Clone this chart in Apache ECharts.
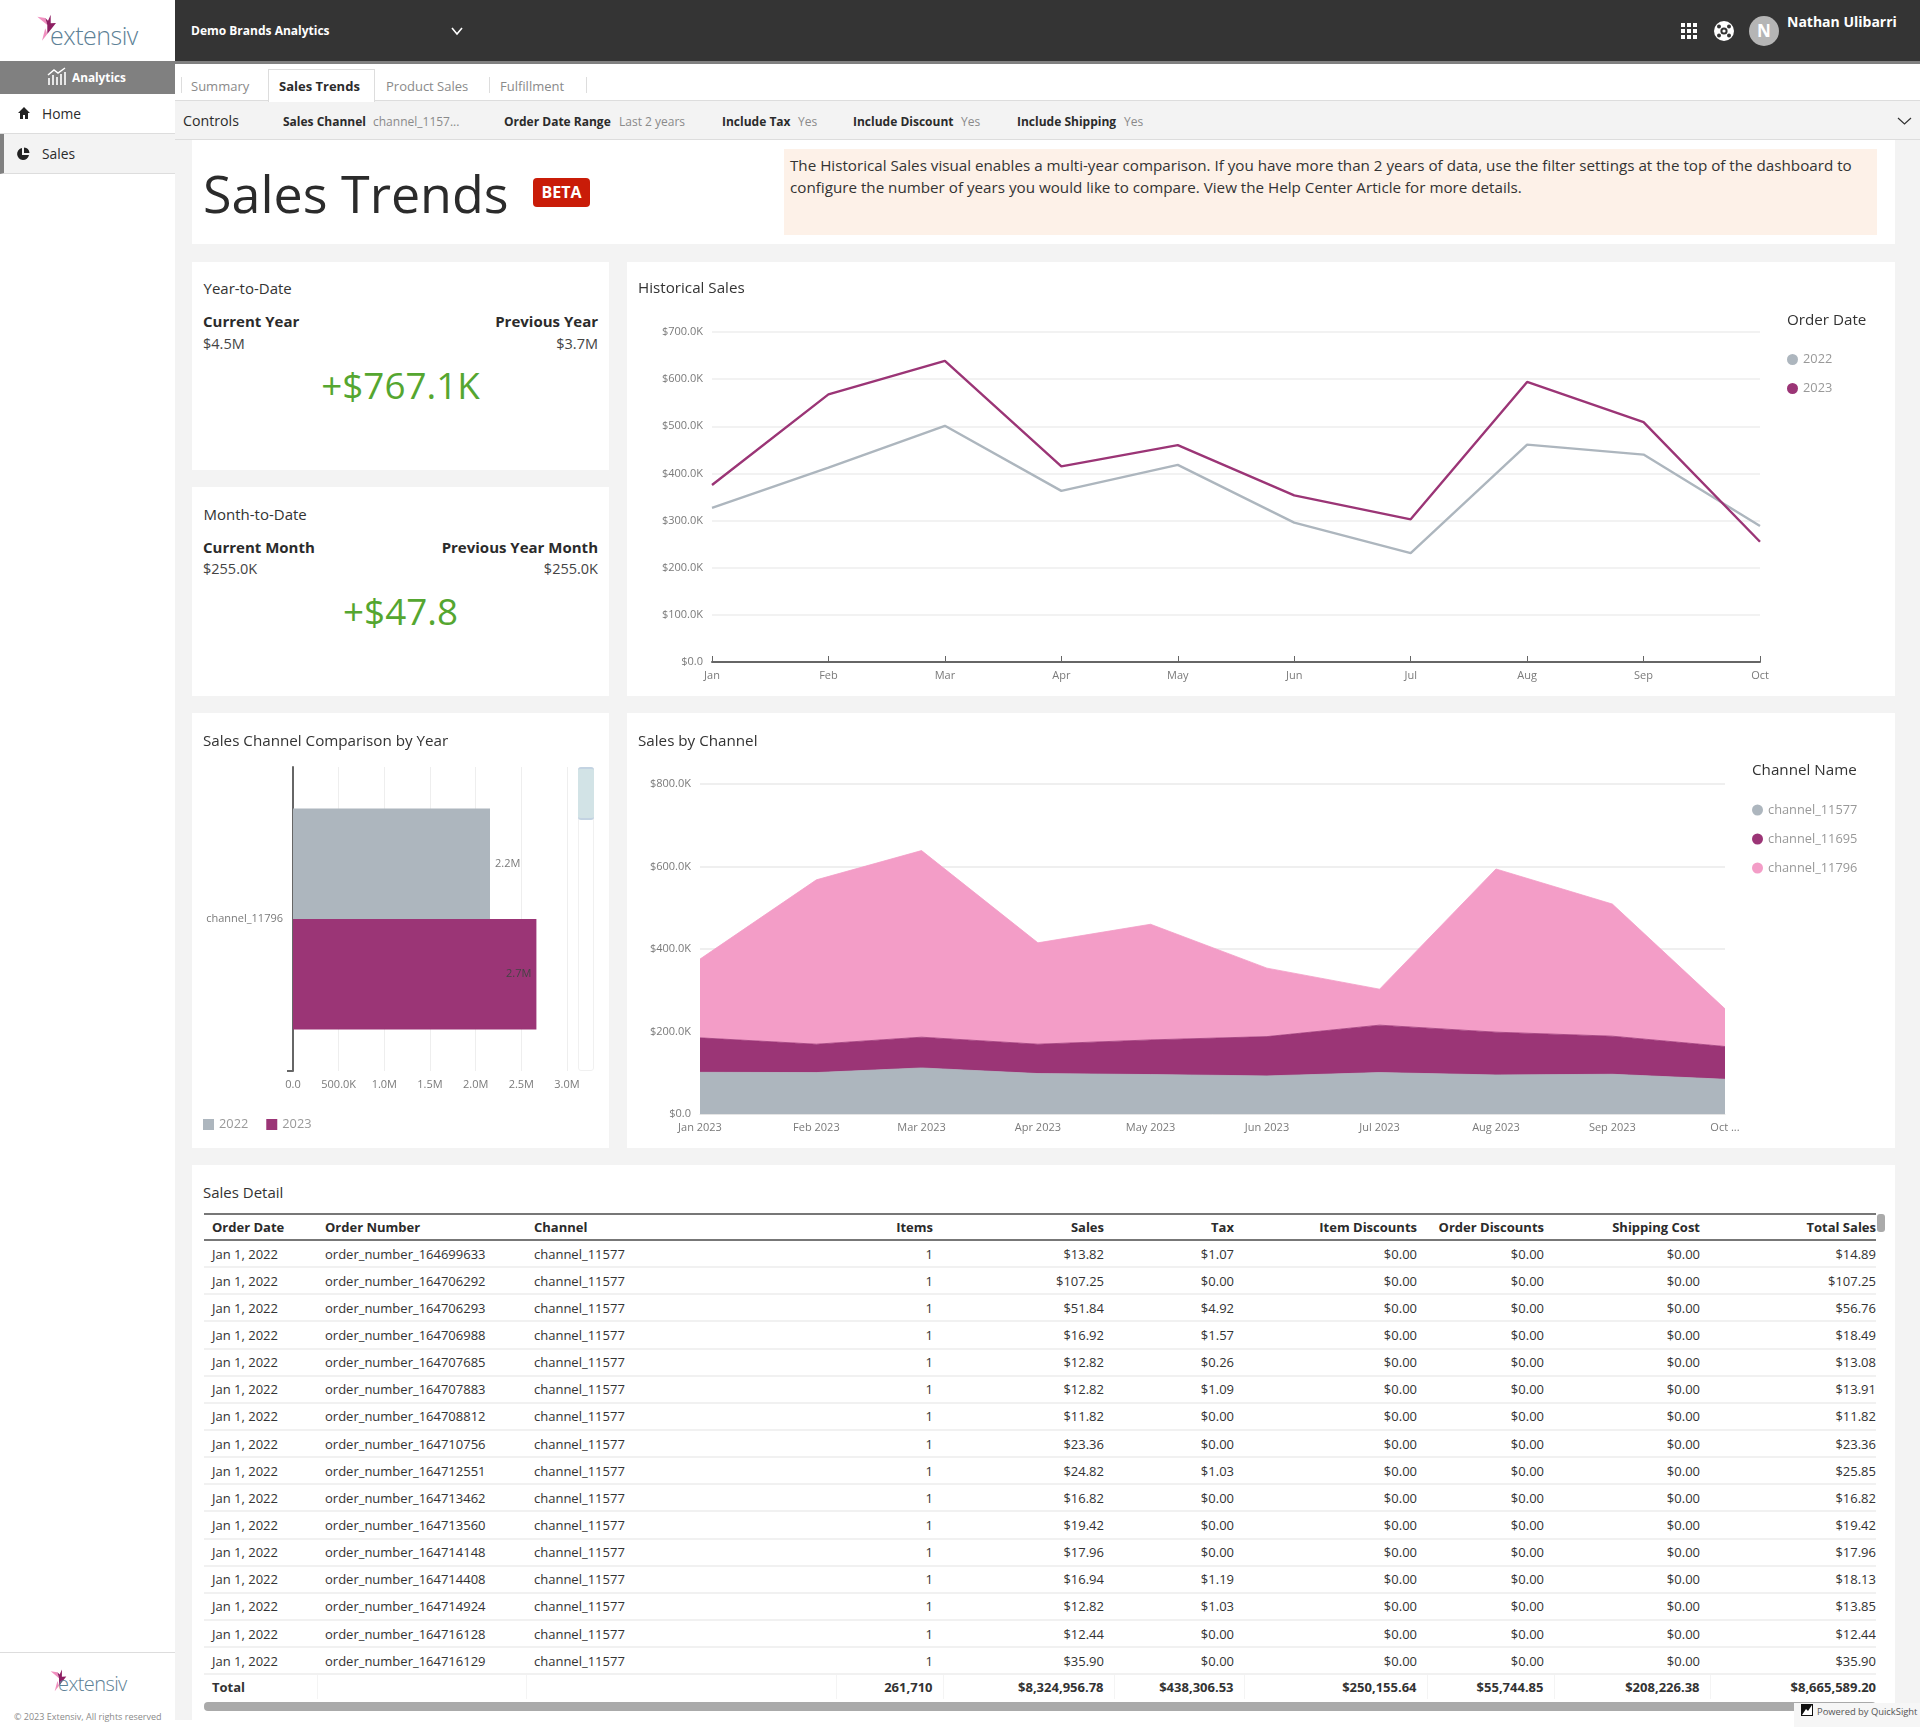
<!DOCTYPE html>
<html>
<head>
<meta charset="utf-8">
<title>Sales Trends</title>
<script src="https://cdn.jsdelivr.net/npm/echarts@6/dist/echarts.min.js"></script>
<style>
    * { box-sizing: border-box; }
    html, body { margin: 0; padding: 0; background: #fff; }
    body { width: 1920px; height: 1730px; position: relative; overflow: hidden; font-family: 'Open Sans', sans-serif; color: #2b2b2b; }
    .abs { position: absolute; white-space: nowrap; }
    .mid { transform: translateY(-50%); }
    .card { position: absolute; background: #fff; }
    .b { font-weight: 700; }
    .grey { color: #8a8a8a; }
    .kpi-head { font-size: 15px; font-weight: 700; color: #2b2b2b; }
    .kpi-val { font-size: 14.5px; color: #444; }
    .kpi-diff { font-size: 36.8px; color: #55a630; text-align: center; left: 0; width: 417px; }
    table { border-collapse: collapse; table-layout: fixed; font-size: 13px; color: #333; }
    th, td { padding: 0 10px 0 8px; height: 27.15px; overflow: hidden; white-space: nowrap; font-weight: 400; border-bottom: 2px solid #f1f1f1; }
    th { font-weight: 700; color: #2b2b2b; height: 26px; border-top: 2px solid #777; border-bottom: 2px solid #777; }
    td.num, th.num { text-align: right; }
    td:last-child, th:last-child { padding-right: 0; }
    tr.total td { font-weight: 700; height: 25px; border-bottom: none; border-right: 1px solid #f4f4f4; color: #333; }
    tr.total td:last-child { border-right: none; }
</style>
</head>
<body>
<div class="abs" style="left:175px;top:0;width:1745px;height:1720px;background:#f3f3f3;"></div>

<!-- top bar -->
<div class="abs" style="left:175px;top:0;width:1745px;height:61px;background:#343434;"></div>
<div class="abs" style="left:175px;top:61px;width:1745px;height:3px;background:#808080;"></div>
<div class="abs mid b" style="left:191px;top:30px;font-size:12px;color:#fff;">Demo Brands Analytics</div>
<svg class="abs" style="left:450px;top:26px;" width="14" height="10"><path d="M2 2 L7 8 L12 2" fill="none" stroke="#fff" stroke-width="1.6"/></svg>
<svg class="abs" style="left:1681px;top:23px;" width="17" height="17" id="gridIcon"></svg>
<svg class="abs" style="left:1714px;top:21px;" width="20" height="20">
    <circle cx="10" cy="10" r="10" fill="#fff"/>
    <circle cx="10" cy="10" r="3.6" fill="#343434"/>
    <circle cx="10" cy="10" r="1.6" fill="#fff"/>
    <circle cx="5" cy="5.5" r="2" fill="#343434"/>
    <circle cx="15" cy="5.5" r="2" fill="#343434"/>
    <circle cx="5" cy="14.5" r="2" fill="#343434"/>
    <circle cx="15" cy="14.5" r="2" fill="#343434"/>
</svg>
<div class="abs" style="left:1749px;top:16px;width:30px;height:30px;border-radius:15px;background:#b5b5b5;color:#fff;font-weight:700;font-size:17px;line-height:30px;text-align:center;">N</div>
<div class="abs mid b" style="left:1787px;top:21px;font-size:14px;color:#fff;">Nathan Ulibarri</div>

<!-- sidebar -->
<svg class="abs" style="left:34px;top:14px;" width="24" height="30">
    <path d="M3.3 2.7 L11.3 4 L13.3 11 Z" fill="#f08fbf"/>
    <path d="M11.3 4 L14 6.7 L16.7 0.7 L16.7 9.3 L22 9 L13.3 20 L13.3 11 Z" fill="#8e1f63"/>
    <path d="M13.3 20 L8 26.7 L11.3 14.3 Z" fill="#f08fbf"/>
</svg>
<div class="abs mid" style="left:50px;top:35px;font-size:25px;font-weight:300;color:#5d8196;letter-spacing:-0.5px;">extensiv</div>
<div class="abs" style="left:0;top:61px;width:175px;height:33px;background:#808080;"></div>
<svg class="abs" style="left:47px;top:67px;" width="20" height="19">
    <path d="M1 8 L7 3 L11 6 L18 1" fill="none" stroke="#fff" stroke-width="1.5"/>
    <path d="M2 18 V11 M6 18 V8 M10 18 V10 M14 18 V7 M18 18 V5" stroke="#fff" stroke-width="1.6"/>
</svg>
<div class="abs mid b" style="left:72px;top:77px;font-size:11.8px;color:#fff;">Analytics</div>
<div class="abs" style="left:0;top:133px;width:175px;height:1px;background:#ddd;"></div>
<svg class="abs" style="left:17px;top:106px;" width="14" height="14"><path d="M7 1 L13 7 H11 V13 H8 V9 H6 V13 H3 V7 H1 Z" fill="#222"/></svg>
<div class="abs mid" style="left:42px;top:113px;font-size:13.8px;">Home</div>
<div class="abs" style="left:0;top:134px;width:175px;height:40px;background:#f3f3f3;border-bottom:1px solid #ddd;border-left:4px solid #808080;"></div>
<svg class="abs" style="left:16px;top:147px;" width="14" height="14"><path d="M6 1 A6 6 0 1 0 13 8 H6 Z M8 0.5 V6 H13.5 A6 6 0 0 0 8 0.5 Z" fill="#222"/></svg>
<div class="abs mid" style="left:42px;top:153px;font-size:13.8px;">Sales</div>
<div class="abs" style="left:0;top:1652px;width:175px;height:1px;background:#ddd;"></div>
<svg class="abs" style="left:48px;top:1669px;" width="20" height="25">
    <path d="M2.7 2.2 L9.4 3.3 L11 9.2 Z" fill="#f08fbf"/>
    <path d="M9.4 3.3 L11.7 5.6 L13.9 0.6 L13.9 7.7 L18.3 7.5 L11 16.7 L11 9.2 Z" fill="#8e1f63"/>
    <path d="M11 16.7 L6.7 22.2 L9.4 11.9 Z" fill="#f08fbf"/>
</svg>
<div class="abs mid" style="left:58px;top:1683px;font-size:20px;font-weight:300;color:#5d8196;letter-spacing:-0.6px;">extensiv</div>
<div class="abs mid" style="left:14px;top:1716px;font-size:9px;color:#8a8a8a;">© 2023 Extensiv, All rights reserved</div>

<!-- tabs -->
<div class="abs" style="left:175px;top:64px;width:1745px;height:37px;background:#fff;border-bottom:1px solid #ddd;"></div>
<div class="abs" style="left:181px;top:77px;width:1px;height:16px;background:#ddd;"></div>
<div class="abs mid" style="left:191px;top:86px;font-size:13px;color:#8a8a8a;">Summary</div>
<div class="abs" style="left:268px;top:69px;width:107px;height:33px;background:#fff;border:1px solid #ddd;border-bottom:none;"></div>
<div class="abs mid b" style="left:279px;top:86px;font-size:13px;">Sales Trends</div>
<div class="abs mid" style="left:386px;top:86px;font-size:13px;color:#8a8a8a;">Product Sales</div>
<div class="abs" style="left:489px;top:77px;width:1px;height:16px;background:#ddd;"></div>
<div class="abs mid" style="left:500px;top:86px;font-size:13px;color:#8a8a8a;">Fulfillment</div>
<div class="abs" style="left:586px;top:77px;width:1px;height:16px;background:#ddd;"></div>

<!-- controls -->
<div class="abs" style="left:175px;top:102px;width:1745px;height:38px;background:#f3f3f3;border-bottom:1px solid #ddd;"></div>
<div class="abs mid" style="left:183px;top:120px;font-size:14.2px;">Controls</div>
<div class="abs mid b" style="left:283px;top:121px;font-size:12px;">Sales Channel</div>
<div class="abs mid grey" style="left:373px;top:121px;font-size:12px;">channel_1157...</div>
<div class="abs mid b" style="left:504px;top:121px;font-size:12px;">Order Date Range</div>
<div class="abs mid grey" style="left:619px;top:121px;font-size:12px;">Last 2 years</div>
<div class="abs mid b" style="left:722px;top:121px;font-size:12px;">Include Tax</div>
<div class="abs mid grey" style="left:798px;top:121px;font-size:12px;">Yes</div>
<div class="abs mid b" style="left:853px;top:121px;font-size:12px;">Include Discount</div>
<div class="abs mid grey" style="left:961px;top:121px;font-size:12px;">Yes</div>
<div class="abs mid b" style="left:1017px;top:121px;font-size:12px;">Include Shipping</div>
<div class="abs mid grey" style="left:1124px;top:121px;font-size:12px;">Yes</div>
<svg class="abs" style="left:1897px;top:116px;" width="15" height="10"><path d="M1 2 L7.5 8 L14 2" fill="none" stroke="#333" stroke-width="1.2"/></svg>

<!-- heading -->
<div class="card" style="left:192px;top:140px;width:1703px;height:104px;"></div>
<div class="abs" style="left:203px;top:157px;font-size:52px;line-height:72px;color:#2b2b2b;">Sales Trends</div>
<div class="abs b" style="left:533px;top:178px;width:57px;height:29px;border-radius:4px;background:#c91c08;color:#fff;font-size:16px;line-height:29px;text-align:center;">BETA</div>
<div class="abs" style="left:784px;top:149px;width:1093px;height:86px;background:#fdf1e8;"></div>
<div class="abs" style="left:790px;top:154px;font-size:15.2px;line-height:22px;color:#333;white-space:normal;width:1075px;">The Historical Sales visual enables a multi-year comparison. If you have more than 2 years of data, use the filter settings at the top of the dashboard to<br>configure the number of years you would like to compare. View the Help Center Article for more details.</div>

<!-- KPI cards -->
<div class="card" style="left:192px;top:262px;width:417px;height:208px;">
    <div class="abs mid" style="left:11.5px;top:26px;font-size:15px;color:#333;">Year-to-Date</div>
    <div class="abs mid kpi-head" style="left:11px;top:59px;" id="ytdHeadL"></div>
    <div class="abs mid kpi-head" style="right:11px;top:59px;" id="ytdHeadR"></div>
    <div class="abs mid kpi-val" style="left:11px;top:81px;" id="ytdValL"></div>
    <div class="abs mid kpi-val" style="right:11px;top:81px;" id="ytdValR"></div>
    <div class="abs mid kpi-diff" style="top:123px;" id="ytdDiff"></div>
</div>
<div class="card" style="left:192px;top:487px;width:417px;height:209px;">
    <div class="abs mid" style="left:11.5px;top:27px;font-size:15px;color:#333;">Month-to-Date</div>
    <div class="abs mid kpi-head" style="left:11px;top:60px;" id="mtdHeadL"></div>
    <div class="abs mid kpi-head" style="right:11px;top:60px;" id="mtdHeadR"></div>
    <div class="abs mid kpi-val" style="left:11px;top:81px;" id="mtdValL"></div>
    <div class="abs mid kpi-val" style="right:11px;top:81px;" id="mtdValR"></div>
    <div class="abs mid kpi-diff" style="top:124px;" id="mtdDiff"></div>
</div>

<!-- chart cards -->
<div class="card" id="historicalChart" style="left:627px;top:262px;width:1268px;height:434px;"></div>
<div class="card" id="comparisonChart" style="left:192px;top:713px;width:417px;height:435px;"></div>
<div class="abs" style="left:578px;top:767px;width:16px;height:304px;border:1px solid #f0f0f0;border-radius:3px;"></div>
<div class="abs" style="left:578px;top:767px;width:16px;height:53px;background:#d2e3e6;border-top:2px solid #c3d3e2;border-bottom:2px solid #c3d3e2;border-radius:3px;"></div>
<div class="abs" style="left:287px;top:1070px;width:6px;height:2px;background:#666;"></div>
<div class="card" id="channelChart" style="left:627px;top:713px;width:1268px;height:435px;"></div>

<!-- table card -->
<div class="card" style="left:192px;top:1165px;width:1703px;height:555px;"></div>
<div class="abs mid" style="left:203px;top:1192px;font-size:15px;color:#333;">Sales Detail</div>
<table class="abs" style="left:204px;top:1213px;width:1672px;" id="detailTable"></table>
<div class="abs" style="left:1877px;top:1214px;width:8px;height:18px;background:#aaa;border-radius:3px;"></div>
<div class="abs" style="left:204px;top:1702px;width:1672px;height:9px;background:#aaa;border-radius:4px;"></div>
<div class="abs" style="left:1794px;top:1703px;width:126px;height:24px;background:#f6f6f6;"></div>
<svg class="abs" style="left:1801px;top:1704px;" width="12" height="12"><rect width="12" height="12" fill="#111"/><path d="M1 11 L5 5 L7 7 L11 1 V11 Z" fill="#fff"/></svg>
<div class="abs mid" style="left:1817px;top:1711px;font-size:9.4px;color:#555;">Powered by QuickSight</div>

<script>
// Chart values (thousands of dollars unless noted)
const monthLabels = ['Jan', 'Feb', 'Mar', 'Apr', 'May', 'Jun', 'Jul', 'Aug', 'Sep', 'Oct'];
const sales2022 = [326.7, 412.5, 501, 363, 418, 295.5, 231, 461, 440, 288.5];
const sales2023 = [375.6, 567.7, 638.6, 415, 460, 353.6, 302.6, 594, 509, 255];
const historicalTicks = ['$0.0', '$100.0K', '$200.0K', '$300.0K', '$400.0K', '$500.0K', '$600.0K', '$700.0K'];

const channelMonths = ['2023-01-01', '2023-02-01', '2023-03-01', '2023-04-01', '2023-05-01', '2023-06-01', '2023-07-01', '2023-08-01', '2023-09-01', '2023-10-01'];
const channelMonthLabels = ['Jan 2023', 'Feb 2023', 'Mar 2023', 'Apr 2023', 'May 2023', 'Jun 2023', 'Jul 2023', 'Aug 2023', 'Sep 2023', 'Oct ...'];
const channel11577 = [101, 100.4, 111.6, 98, 95.6, 92.3, 100.4, 94.6, 96.3, 84.2];
const channel11695 = [83.6, 68.8, 74.6, 71.2, 84, 95.3, 115, 103.8, 92.3, 79.4];
const channel11796 = [191, 398.5, 452.4, 245.8, 280.4, 166, 87.2, 395.6, 320.4, 91.4];
const channelTicks = ['$0.0', '$200.0K', '$400.0K', '$600.0K', '$800.0K'];

// Values in dollars
const comparisonCategories = ['channel_11796'];
const comparison2022 = [2157000];
const comparison2023 = [2665000];
const comparisonTicks = ['0.0', '500.0K', '1.0M', '1.5M', '2.0M', '2.5M', '3.0M'];

const kpiYear = ['Current Year', 'Previous Year', '$4.5M', '$3.7M', '+$767.1K'];
const kpiMonth = ['Current Month', 'Previous Year Month', '$255.0K', '$255.0K', '+$47.8'];

const tableColumns = ['Order Date', 'Order Number', 'Channel', 'Items', 'Sales', 'Tax', 'Item Discounts', 'Order Discounts', 'Shipping Cost', 'Total Sales'];
const columnWidths = [113, 209, 310, 107, 171, 130, 183, 127, 156, 166];
const orderNumbers = ['164699633', '164706292', '164706293', '164706988', '164707685', '164707883', '164708812', '164710756', '164712551', '164713462', '164713560', '164714148', '164714408', '164714924', '164716128', '164716129'];
const orderSales = ['13.82', '107.25', '51.84', '16.92', '12.82', '12.82', '11.82', '23.36', '24.82', '16.82', '19.42', '17.96', '16.94', '12.82', '12.44', '35.90'];
const orderTax = ['1.07', '0.00', '4.92', '1.57', '0.26', '1.09', '0.00', '0.00', '1.03', '0.00', '0.00', '0.00', '1.19', '1.03', '0.00', '0.00'];
const orderTotal = ['14.89', '107.25', '56.76', '18.49', '13.08', '13.91', '11.82', '23.36', '25.85', '16.82', '19.42', '17.96', '18.13', '13.85', '12.44', '35.90'];
const tableTotals = ['Total', '', '', '261,710', '$8,324,956.78', '$438,306.53', '$250,155.64', '$55,744.85', '$208,226.38', '$8,665,589.20'];

const GREY = '#adb6be';
const PURPLE = '#9b3576';
const PINK = '#f39dc7';
const FONT = 'Open Sans';

// KPI cards
function fillKpi(prefix, values) {
    ['HeadL', 'HeadR', 'ValL', 'ValR', 'Diff'].forEach((key, i) => {
        document.getElementById(prefix + key).textContent = values[i];
    });
}
fillKpi('ytd', kpiYear);
fillKpi('mtd', kpiMonth);

// Toolbar icon, 3x3 squares
let gridIcon = '';
for (let row = 0; row < 3; row++) {
    for (let col = 0; col < 3; col++) {
        gridIcon += '<rect x="' + (col * 6) + '" y="' + (row * 6) + '" width="4" height="4" fill="#fff"/>';
    }
}
document.getElementById('gridIcon').innerHTML = gridIcon;

// Table
function buildTable() {
    let html = '<colgroup>' + columnWidths.map(w => '<col style="width:' + w + 'px">').join('') + '</colgroup>';
    html += '<tr>' + tableColumns.map((c, i) => '<th class="' + (i > 2 ? 'num' : '') + '" style="text-align:' + (i > 2 ? 'right' : 'left') + '">' + c + '</th>').join('') + '</tr>';
    orderNumbers.forEach((num, i) => {
        const cells = ['Jan 1, 2022', 'order_number_' + num, 'channel_11577', '1', '$' + orderSales[i], '$' + orderTax[i], '$0.00', '$0.00', '$0.00', '$' + orderTotal[i]];
        html += '<tr>' + cells.map((c, j) => '<td class="' + (j > 2 ? 'num' : '') + '">' + c + '</td>').join('') + '</tr>';
    });
    html += '<tr class="total">' + tableTotals.map((c, j) => '<td class="' + (j > 2 ? 'num' : '') + '">' + c + '</td>').join('') + '</tr>';
    document.getElementById('detailTable').innerHTML = html;
}
buildTable();

function cardTitle(text, left, top) {
    return {
        text: text,
        left: left,
        top: top,
        padding: 0,
        textStyle: { fontFamily: FONT, fontSize: 15.2, fontWeight: 400, color: '#333' }
    };
}

function legendOption(left, top, gap, icon, names, orient) {
    return {
        orient: orient,
        left: left,
        top: top,
        padding: 0,
        itemWidth: 11,
        itemHeight: 11,
        itemGap: gap,
        icon: icon,
        textStyle: { fontFamily: FONT, fontSize: 12.8, color: '#999' },
        data: names
    };
}

const axisText = { fontFamily: FONT, fontSize: 11, color: '#7a7a7a' };

// Historical Sales
const historicalChart = echarts.init(document.getElementById('historicalChart'));
historicalChart.setOption({
    animation: false,
    title: [cardTitle('Historical Sales', 11, 19), cardTitle('Order Date', 1160, 51)],
    tooltip: { trigger: 'axis' },
    legend: legendOption(1160, 91, 16, 'circle', ['2022', '2023'], 'vertical'),
    grid: { left: 85, top: 70, width: 1048, height: 330 },
    xAxis: {
        type: 'category',
        boundaryGap: false,
        data: monthLabels,
        axisLabel: Object.assign({ margin: 8, showMaxLabel: true }, axisText),
        axisLine: { lineStyle: { color: '#666', width: 2 } },
        axisTick: { inside: true, length: 6, lineStyle: { color: '#666', width: 1 } }
    },
    yAxis: {
        type: 'value',
        min: 0,
        max: 700,
        interval: 100,
        axisLabel: Object.assign({
            margin: 9,
            formatter: (value) => historicalTicks[value / 100]
        }, axisText),
        axisLine: { show: false },
        axisTick: { show: false },
        splitLine: { lineStyle: { color: '#eeeeee', width: 1.5 } }
    },
    series: [
        { name: '2022', type: 'line', data: sales2022, symbol: 'none', lineStyle: { color: GREY, width: 2.4 }, itemStyle: { color: GREY } },
        { name: '2023', type: 'line', data: sales2023, symbol: 'none', lineStyle: { color: PURPLE, width: 2.4 }, itemStyle: { color: PURPLE } }
    ]
});

// Sales Channel Comparison by Year
const comparisonChart = echarts.init(document.getElementById('comparisonChart'));
comparisonChart.setOption({
    animation: false,
    title: cardTitle('Sales Channel Comparison by Year', 11, 21),
    tooltip: { trigger: 'axis' },
    legend: legendOption(11, 405, 18, 'rect', ['2022', '2023'], 'horizontal'),
    grid: { left: 101, top: 54, width: 274, height: 304 },
    xAxis: {
        type: 'value',
        min: 0,
        max: 3000000,
        interval: 500000,
        axisLabel: Object.assign({
            margin: 8,
            formatter: (value) => comparisonTicks[value / 500000]
        }, axisText),
        axisLine: { show: false },
        axisTick: { show: false },
        splitLine: { lineStyle: { color: '#eeeeee', width: 1 } }
    },
    yAxis: {
        type: 'category',
        inverse: true,
        data: comparisonCategories,
        axisLabel: Object.assign({ margin: 10 }, axisText),
        axisLine: { lineStyle: { color: '#666', width: 2 } },
        axisTick: { show: false }
    },
    series: [
        {
            name: '2022',
            type: 'bar',
            data: comparison2022,
            barWidth: 110.5,
            barGap: 0,
            itemStyle: { color: GREY },
            label: { show: true, position: 'right', distance: 5, fontFamily: FONT, fontSize: 11, color: '#7a7a7a', formatter: '2.2M' }
        },
        {
            name: '2023',
            type: 'bar',
            data: comparison2023,
            barWidth: 110.5,
            barGap: 0,
            itemStyle: { color: PURPLE },
            label: { show: true, position: 'insideRight', distance: 5, fontFamily: FONT, fontSize: 11, color: '#444', formatter: '2.7M' }
        }
    ]
});

// Sales by Channel, months are spaced by their real length
const monthStamps = channelMonths.map(m => new Date(m + 'T00:00:00').getTime());
function timeSeries(values) {
    return values.map((v, i) => [monthStamps[i], v]);
}
function areaSeries(name, values, color) {
    return {
        name: name,
        type: 'line',
        stack: 'sales',
        data: timeSeries(values),
        symbol: 'none',
        lineStyle: { color: color, width: 1, opacity: 0.8 },
        itemStyle: { color: color },
        areaStyle: { color: color, opacity: 1 }
    };
}

const DAY = 24 * 3600 * 1000;
const channelChart = echarts.init(document.getElementById('channelChart'));
channelChart.setOption({
    animation: false,
    title: [cardTitle('Sales by Channel', 11, 21), cardTitle('Channel Name', 1125, 50)],
    tooltip: { trigger: 'axis' },
    legend: legendOption(1125, 90.5, 16, 'circle', ['channel_11577', 'channel_11695', 'channel_11796'], 'vertical'),
    grid: { left: 73, top: 71, width: 1025, height: 330 },
    xAxis: {
        type: 'time',
        min: monthStamps[0],
        max: monthStamps[monthStamps.length - 1],
        minInterval: 28 * DAY,
        maxInterval: 31 * DAY,
        axisLabel: Object.assign({
            margin: 8,
            showMinLabel: true,
            showMaxLabel: true,
            hideOverlap: false,
            formatter: (value) => channelMonthLabels[monthStamps.indexOf(value)] || ''
        }, axisText),
        axisLine: { lineStyle: { color: '#e4e4e4', width: 1 } },
        axisTick: { show: false },
        splitLine: { show: false }
    },
    yAxis: {
        type: 'value',
        min: 0,
        max: 800,
        interval: 200,
        axisLabel: Object.assign({
            margin: 9,
            formatter: (value) => channelTicks[value / 200]
        }, axisText),
        axisLine: { show: false },
        axisTick: { show: false },
        splitLine: { lineStyle: { color: '#eaeaea', width: 1.5 } }
    },
    series: [
        areaSeries('channel_11577', channel11577, GREY),
        areaSeries('channel_11695', channel11695, PURPLE),
        areaSeries('channel_11796', channel11796, PINK)
    ]
});
</script>
</body>
</html>
